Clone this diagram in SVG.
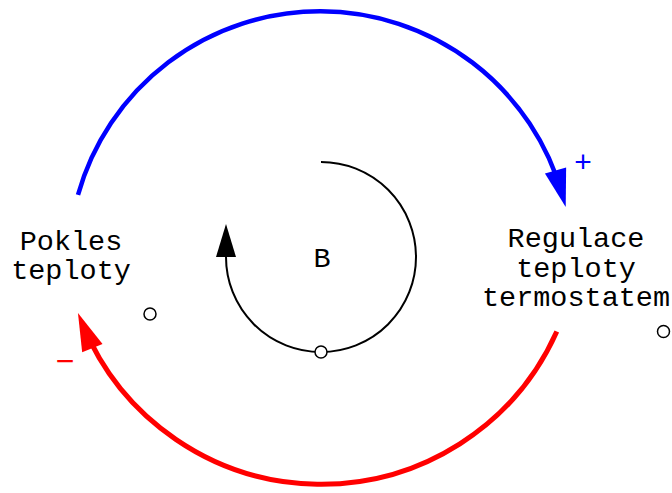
<svg xmlns="http://www.w3.org/2000/svg" width="672" height="493" viewBox="0 0 672 493">
<style>
.lbl{font-family:"Liberation Mono","Courier New",monospace;font-size:28.5px;fill:#000;text-anchor:middle}
.sign{font-family:"Liberation Sans",Arial,sans-serif;text-anchor:middle}
.dot{fill:#fff;stroke:#000;stroke-width:1.5}
.link{fill:none}
</style>
<defs>
<marker id="ahBlue" markerUnits="userSpaceOnUse" viewBox="0 -12 40 24" markerWidth="40" markerHeight="24" refX="26" refY="0" orient="auto" overflow="visible">
<path d="M0,-11 L38,0 L0,11 Z" fill="#0000ff"/>
</marker>
<marker id="ahRed" markerUnits="userSpaceOnUse" viewBox="0 -12 40 24" markerWidth="40" markerHeight="24" refX="26" refY="0" orient="auto" overflow="visible">
<path d="M0,-11 L38,0 L0,11 Z" fill="#ff0000"/>
</marker>
<marker id="ahBlack" markerUnits="userSpaceOnUse" viewBox="0 -11 34 22" markerWidth="34" markerHeight="22" refX="0" refY="0" orient="auto" overflow="visible">
<path d="M0,-10 L33,0 L0,10 Z" fill="#000"/>
</marker>
</defs>
<rect width="672" height="493" fill="#fff"/>
<g id="connectors">
<path id="link-pos" class="link" d="M78,194.9 A251.5,251.5 0 0 1 562.5,195.5" stroke="#0000ff" stroke-width="4.5" marker-end="url(#ahBlue)"/>
<path id="link-neg" class="link" d="M556.8,331.5 A258,258 0 0 1 82.5,324" stroke="#ff0000" stroke-width="5" marker-end="url(#ahRed)"/>
<path id="loop" class="link" d="M321,162 A95,95 0 1 1 226,257" stroke="#000" stroke-width="2" marker-end="url(#ahBlack)"/>
<circle class="dot" cx="321" cy="352" r="6"/>
<text class="sign" x="583" y="171.5" font-size="30" fill="#0000ff">+</text>
<text class="sign" x="65" y="372" font-size="32" fill="#ff0000">−</text>
</g>
<g id="node-pokles">
<text class="lbl" x="71" y="250">Pokles</text>
<text class="lbl" x="71" y="279">teploty</text>
<circle class="dot" cx="150" cy="314" r="6"/>
</g>
<g id="node-regulace">
<text class="lbl" x="576" y="247">Regulace</text>
<text class="lbl" x="576" y="277">teploty</text>
<text class="lbl" x="576" y="306">termostatem</text>
<circle class="dot" cx="663.5" cy="331.5" r="6"/>
</g>
<g id="loop-label">
<text class="lbl" x="322" y="267">B</text>
</g>
</svg>
